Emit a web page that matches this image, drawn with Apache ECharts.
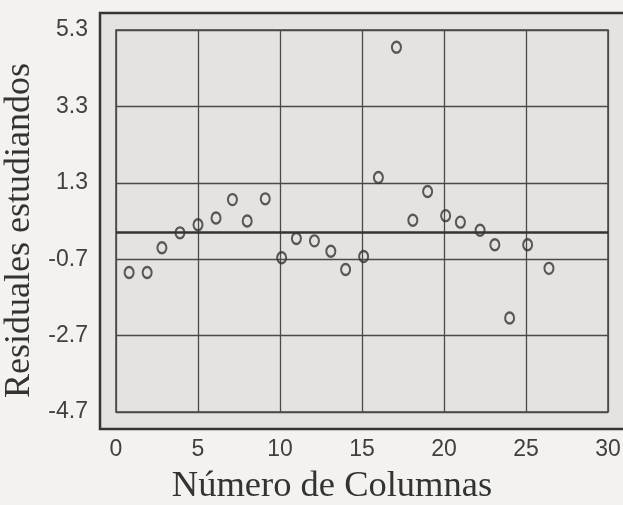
<!DOCTYPE html>
<html>
<head>
<meta charset="utf-8">
<script src="https://cdn.jsdelivr.net/npm/echarts@6/dist/echarts.min.js"></script>
<style>
  html, body { margin: 0; padding: 0; background: #f3f2ee; }
  #chart { width: 623px; height: 505px; }
</style>
</head>
<body>
<div id="chart"></div>
<script>
// Column number of each observation
const columnas = [0.8, 1.9, 2.8, 3.9, 5.0, 6.1, 7.1, 8.0, 9.1, 10.1, 11.0, 12.1, 13.1,
                  14.0, 15.1, 16.0, 17.1, 18.1, 19.0, 20.1, 21.0, 22.2, 23.1, 24.0, 25.1, 26.4];
// Studentized residual for each column
const residuales = [-1.05, -1.05, -0.40, -0.01, 0.20, 0.38, 0.86, 0.30, 0.88, -0.66, -0.16, -0.22, -0.49,
                    -0.97, -0.63, 1.44, 4.85, 0.32, 1.07, 0.44, 0.27, 0.06, -0.32, -2.24, -0.32, -0.94];
// Tick values on the vertical axis
const yTicks = [-4.7, -2.7, -0.7, 1.3, 3.3, 5.3];
// Tick values on the horizontal axis
const xTicks = [0, 5, 10, 15, 20, 25, 30];

const points = columnas.map((c, i) => [c, residuales[i]]);

const chart = echarts.init(document.getElementById('chart'), null, { renderer: 'canvas' });
chart.setOption({
  backgroundColor: '#f3f2ee',
  animation: false,
  graphic: [{
    type: 'rect',
    z: -10,
    shape: { x: 100, y: 13, width: 540, height: 416 },
    style: { fill: '#e4e3df', stroke: '#353535', lineWidth: 2.5 }
  }],
  grid: {
    left: 116, top: 30, right: 15, bottom: 93,
    outerBoundsMode: 'none',
    containLabel: false,
    show: true,
    backgroundColor: '#e4e3df',
    borderColor: '#454545',
    borderWidth: 1.5
  },
  xAxis: {
    type: 'value',
    min: xTicks[0],
    max: xTicks[xTicks.length - 1],
    interval: 5,
    name: 'Número de Columnas',
    nameLocation: 'middle',
    nameGap: 56,
    nameTextStyle: {
      fontFamily: 'Liberation Serif', fontSize: 36.5, color: '#333',
      padding: [0, 60, 0, 0]
    },
    axisLine: { show: false },
    axisTick: { show: false },
    axisLabel: {
      margin: 26,
      fontFamily: 'Liberation Sans', fontSize: 23, color: '#404040'
    },
    splitLine: { show: true, lineStyle: { color: '#4a4a4a', width: 1.3 } }
  },
  yAxis: {
    type: 'value',
    min: yTicks[0],
    max: yTicks[yTicks.length - 1],
    name: 'Residuales estudiandos',
    nameLocation: 'middle',
    nameRotate: 90,
    nameGap: 74,
    nameTextStyle: {
      fontFamily: 'Liberation Serif', fontSize: 36, color: '#333',
      padding: [0, 19, 0, 0]
    },
    axisLine: { show: false },
    axisTick: { show: false, customValues: yTicks },
    axisLabel: {
      customValues: yTicks,
      margin: 28,
      fontFamily: 'Liberation Sans', fontSize: 23, color: '#404040',
      formatter: v => v.toFixed(1)
    },
    splitLine: { show: true, lineStyle: { color: '#4a4a4a', width: 1.3 } }
  },
  series: [{
    type: 'scatter',
    data: points,
    symbol: 'circle',
    symbolSize: [9, 11],
    itemStyle: { color: 'rgba(0,0,0,0)', borderColor: '#333', borderWidth: 2.2 },
    markLine: {
      silent: true,
      symbol: 'none',
      label: { show: false },
      lineStyle: { color: '#333', width: 2.6, type: 'solid' },
      data: [{ yAxis: 0 }]
    }
  }]
});
</script>
</body>
</html>
